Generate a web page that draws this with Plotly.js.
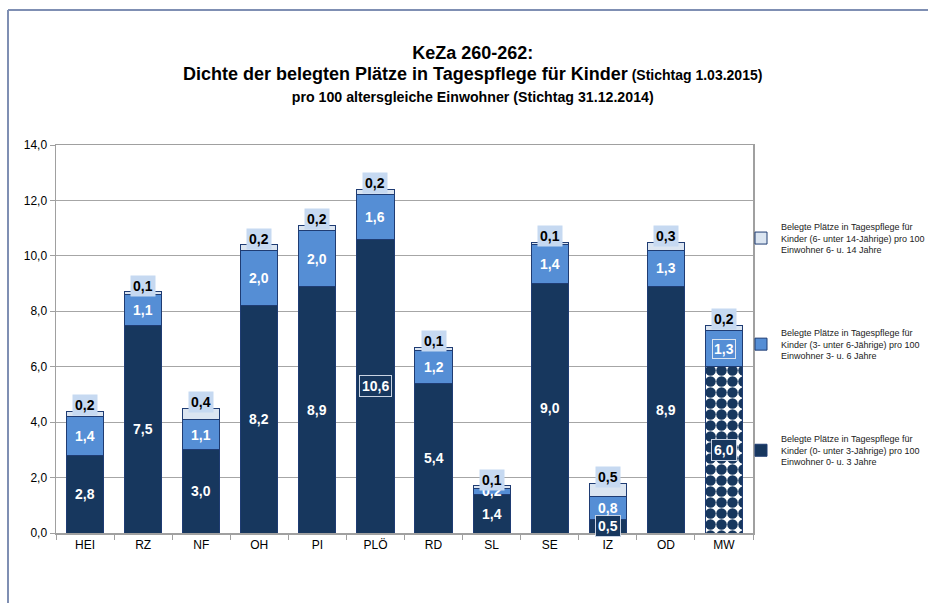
<!DOCTYPE html>
<html>
<head>
<meta charset="utf-8">
<script src="https://cdn.plot.ly/plotly-3.0.1.min.js"></script>
<style>html,body{margin:0;padding:0;background:#fff;}#chart{width:928px;height:603px;}</style>
</head>
<body>
<div id="chart"></div>
<script>
const categories = ["HEI","RZ","NF","OH","PI","PLÖ","RD","SL","SE","IZ","OD","MW"];
const under3 = [2.8,7.5,3.0,8.2,8.9,10.6,5.4,1.4,9.0,0.5,8.9,6.0];
const age3to6 = [1.4,1.1,1.1,2.0,2.0,1.6,1.2,0.2,1.4,0.8,1.3,1.3];
const age6to14 = [0.2,0.1,0.4,0.2,0.2,0.2,0.1,0.1,0.1,0.5,0.3,0.2];
const yTicks = [0,2,4,6,8,10,12,14];
const nameUnder3 = "Belegte Plätze in Tagespflege für<br>Kinder (0- unter 3-Jährige) pro 100<br>Einwohner 0- u. 3 Jahre";
const name3to6 = "Belegte Plätze in Tagespflege für<br>Kinder (3- unter 6-Jährige) pro 100<br>Einwohner 3- u. 6 Jahre";
const name6to14 = "Belegte Plätze in Tagespflege für<br>Kinder (6- unter 14-Jährige) pro 100<br>Einwohner 6- u. 14 Jahre";

const DARK = "#17375e", MID = "#558ed5", LIGHT = "#dbe5f1", LINE = "#1f3c73";
const FONT = "Liberation Sans, Arial, sans-serif";
const isMW = categories.map(c => c === "MW");
const fmt = v => v.toFixed(1).replace(".", ",");

const traces = [
  {type:"bar", name:nameUnder3, x:categories, y:under3, legendgroup:"a", legendrank:3,
   marker:{color:DARK, line:{color:LINE, width:1},
     pattern:{shape:isMW.map(m => m ? "." : ""), fillmode:"replace", bgcolor:"#ffffff", fgcolor:DARK, size:11, solidity:0.72}},
   hoverinfo:"skip"},
  {type:"bar", name:name3to6, x:categories, y:age3to6, legendgroup:"b", legendrank:2,
   marker:{color:MID, line:{color:LINE, width:1}}, hoverinfo:"skip"},
  {type:"bar", name:name6to14, x:categories, y:age6to14, legendgroup:"c", legendrank:1,
   marker:{color:LIGHT, line:{color:LINE, width:1}}, hoverinfo:"skip"}
];

const annotations = [];
const darkBox = new Set(["PLÖ","IZ","MW"]);
categories.forEach((c, i) => {
  const boxed = darkBox.has(c);
  annotations.push({x:c, y:under3[i]/2, text:fmt(under3[i]), showarrow:false,
    font:{family:FONT, size:14, color:"#ffffff", weight:"bold"},
    bgcolor: boxed ? DARK : "rgba(0,0,0,0)",
    bordercolor: boxed ? "#c9d3e3" : "rgba(0,0,0,0)", borderwidth: boxed ? 1 : 0, borderpad:2});
  annotations.push({x:c, y:under3[i] + age3to6[i]/2, text:fmt(age3to6[i]), showarrow:false,
    font:{family:FONT, size:14, color:"#ffffff", weight:"bold"},
    bordercolor: c === "MW" ? "#dbe5f1" : "rgba(0,0,0,0)", borderwidth: c === "MW" ? 1 : 0, borderpad:1});
  annotations.push({x:c, y:under3[i] + age3to6[i] + age6to14[i], yshift:6, text:fmt(age6to14[i]), showarrow:false,
    font:{family:FONT, size:14, color:"#000000", weight:"bold"}, bgcolor:"#c6d9f1", borderpad:2});
});

annotations.push({xref:"paper", yref:"paper", x:(472-56)/697, y:(533-41)/388, xanchor:"center", yanchor:"top",
  showarrow:false, align:"center",
  text:"<b><span style='font-size:18px'>KeZa 260-262:</span><br>" +
       "<span style='font-size:18px'>Dichte der belegten Plätze in Tagespflege für Kinder</span><span style='font-size:14px'> (Stichtag 1.03.2015)</span><br>" +
       "<span style='font-size:14.2px'>pro 100 altersgleiche Einwohner (Stichtag 31.12.2014)</span></b>",
  font:{family:FONT, size:16.5, color:"#000"}});

const layout = {
  width:928, height:603,
  margin:{l:56, r:175, t:145, b:70, pad:0, autoexpand:false},
  paper_bgcolor:"#ffffff", plot_bgcolor:"#ffffff",
  barmode:"stack", bargap:0.36,
  separators:",.",
  font:{family:FONT, color:"#000"},
  showlegend:true,
  legend:{x:(741-56)/697, y:(533-214)/388, xanchor:"left", yanchor:"top", traceorder:"grouped", tracegroupgap:68,
    font:{family:FONT, size:9, color:"#222"}, itemwidth:30, bgcolor:"rgba(0,0,0,0)"},
  xaxis:{type:"category", showgrid:false, showline:true, linecolor:"#a0a0a0", linewidth:1.5, mirror:true,
    ticks:"outside", ticklen:5, tickcolor:"#a0a0a0", tickson:"boundaries",
    tickfont:{family:FONT, size:12, color:"#000"}},
  yaxis:{range:[0,14], tickvals:yTicks, tickformat:".1f", showgrid:true, gridcolor:"#a6a6a6", gridwidth:1,
    showline:true, linecolor:"#a0a0a0", linewidth:1.5, mirror:true, ticks:"outside", ticklen:5, tickcolor:"#a0a0a0",
    zeroline:false, tickfont:{family:FONT, size:12, color:"#000"}},
  annotations:annotations,
  shapes:[
    {type:"line", xref:"paper", yref:"paper", x0:(8-56)/697, x1:(8-56)/697, y0:(533-10)/388, y1:(533-610)/388,
     line:{color:"#7f8fb3", width:2}},
    {type:"line", xref:"paper", yref:"paper", x0:(8-56)/697, x1:(935-56)/697, y0:(533-10)/388, y1:(533-10)/388,
     line:{color:"#7f8fb3", width:2}}
  ]
};

Plotly.newPlot("chart", traces, layout, {displayModeBar:false, staticPlot:true});
</script>
</body>
</html>
